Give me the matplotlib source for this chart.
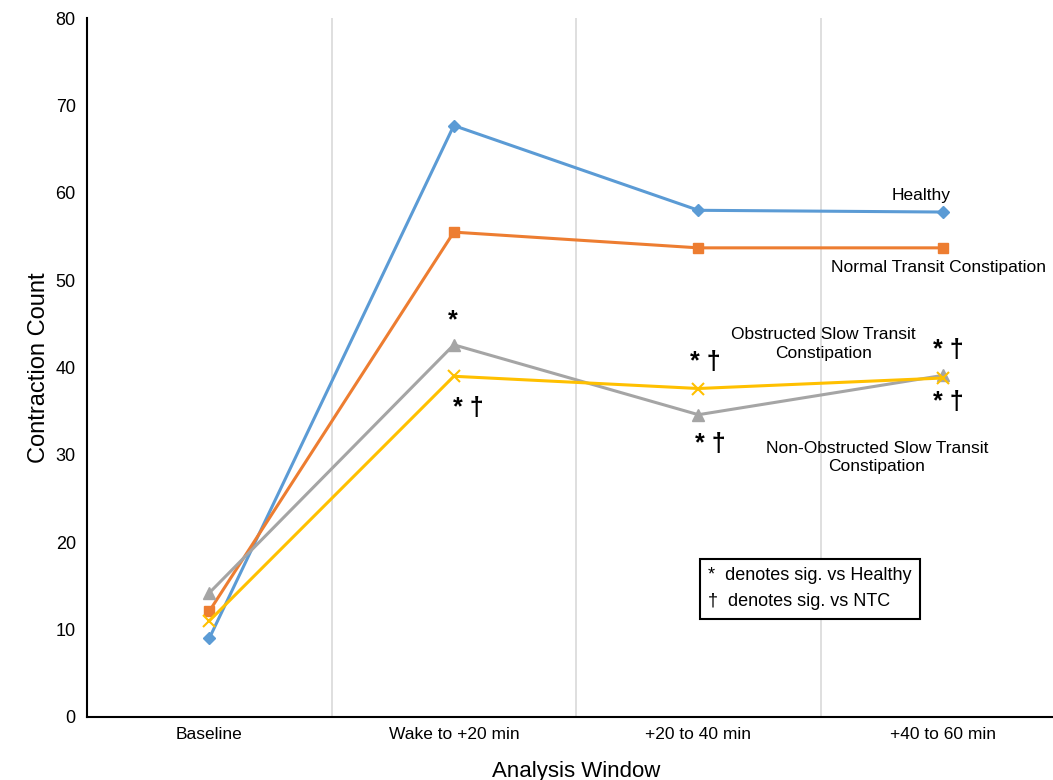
import matplotlib
matplotlib.use("Agg")

import matplotlib.pyplot as plt
import numpy as np

plt.rcParams['font.family'] = ['Liberation Sans', 'DejaVu Sans']

windows = ["Baseline", "Wake to +20 min", "+20 to 40 min", "+40 to 60 min"]
healthy = [9.0, 67.7, 58.0, 57.8]
ntc = [12.1, 55.5, 53.7, 53.7]
obstructed = [14.2, 42.6, 34.6, 39.1]
non_obstructed = [11.0, 39.0, 37.6, 38.8]

fig = plt.figure(figsize=(10.53, 7.80), dpi=100)
ax = fig.add_axes([0.0826, 0.0808, 0.929, 0.896])

x = np.arange(len(windows))
ax.plot(x, healthy, color="#5B9BD5", lw=2.2, marker="D", ms=6)
ax.plot(x, ntc, color="#ED7D31", lw=2.2, marker="s", ms=7)
ax.plot(x, obstructed, color="#A5A5A5", lw=2.2, marker="^", ms=8)
ax.plot(x, non_obstructed, color="#FFC000", lw=2.2, marker="x", ms=8, mew=1.5)

# vertical separators between windows
for xv in [0.5, 1.5, 2.5]:
    ax.axvline(xv, color="#d9d9d9", lw=1.2, zorder=0)

ax.set_xlim(-0.5, 3.5)
ax.set_ylim(0, 80)
ax.set_xticks(x)
ax.set_xticklabels(windows, fontsize=12.5)
ax.set_yticks(np.arange(0, 81, 10))
ax.tick_params(axis="x", length=0, labelsize=12.5, pad=7)
ax.tick_params(axis="y", length=0, labelsize=13, pad=8)
for s in ["top", "right"]:
    ax.spines[s].set_visible(False)
ax.spines["left"].set_linewidth(1.5)
ax.spines["bottom"].set_linewidth(1.5)

ax.set_ylabel("Contraction Count", fontsize=17, labelpad=4)
ax.set_xlabel("Analysis Window", fontsize=16, labelpad=14)

# series labels
lbl = dict(fontsize=12.5, ha="center", va="center", linespacing=1.3)
ax.text(2.91, 59.7, "Healthy", **lbl)
ax.text(2.98, 51.5, "Normal Transit Constipation", **lbl)
ax.text(2.51, 42.7, "Obstructed Slow Transit\nConstipation", **lbl)
ax.text(2.73, 29.7, "Non-Obstructed Slow Transit\nConstipation", **lbl)

# significance marks
marks = [(0.995, 45.4, "*"), (1.06, 35.4, "* †"), (2.03, 40.6, "* †"),
         (2.05, 31.3, "* †"), (3.02, 42.0, "* †"), (3.02, 36.0, "* †")]
for mx, my, mt in marks:
    ax.text(mx, my, mt, fontsize=18, fontweight="bold", ha="center", va="center")

# key box
ax.text(2.04, 14.7, "*  denotes sig. vs Healthy\n†  denotes sig. vs NTC",
        fontsize=13, ha="left", va="center", linespacing=1.75,
        bbox=dict(boxstyle="square,pad=0.45", fc="white", ec="black", lw=1.5))

fig.savefig("out.png", dpi=100)
